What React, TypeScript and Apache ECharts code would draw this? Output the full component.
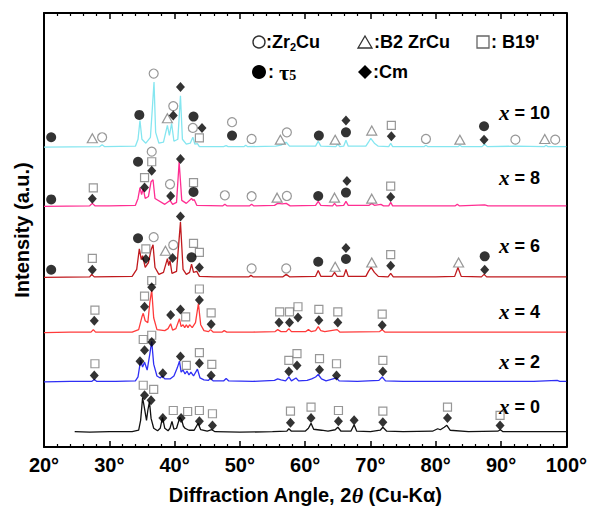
import React, { useEffect, useRef } from 'react';
import * as echarts from 'echarts';

// ---- Diffraction profiles: [2theta (deg), intensity above the pattern's own baseline] ----
const profileX0: number[][] = [
  [24.7, 0.5], [27, 0], [30, 0.5], [33.5, 0.5], [34.5, 2], [34.8, 12], [35.1, 35], [35.4, 24], [35.7, 12], [35.9, 22],
  [36.15, 31], [36.4, 14], [36.8, 4], [37.4, 1.5], [37.8, 4], [38.15, 15], [38.5, 4], [39.0, 1.5], [39.3, 4], [39.6, 11],
  [39.9, 3], [40.3, 4], [40.8, 15], [41.1, 12], [41.35, 6], [41.6, 4], [42.2, 2], [43.0, 2], [43.6, 9], [44.0, 2.5],
  [45.0, 1], [45.7, 2.5], [46.2, 0.5], [50, 0], [55, 0.5], [57.2, 1], [57.5, 3.5], [57.9, 1], [60.0, 1], [60.5, 4],
  [60.9, 9], [61.3, 3], [62.5, 2], [63.5, 1], [64.6, 2.5], [65.0, 5], [65.5, 1], [67.0, 1], [67.5, 7.5], [67.9, 1],
  [70, 0.5], [71.5, 2], [71.9, 5], [72.5, 1], [75, 0.5], [79.5, 1], [80.3, 3.5], [80.7, 2.5], [81.3, 5], [81.7, 7],
  [82.2, 2], [85, 0.5], [89.5, 1], [89.9, 2.5], [90.3, 0.5], [95, 0.5], [100, 0.5],
];
const profileX2: number[][] = [
  [20, 0], [24, 0.5], [27.3, 0.5], [27.7, 2.5], [28.1, 0.5], [31, 0.5], [34.0, 1], [34.4, 5], [34.8, 22], [35.1, 15],
  [35.4, 20], [35.8, 12], [36.2, 28], [36.5, 41], [36.8, 18], [37.3, 6], [37.8, 4], [38.1, 6], [38.5, 3], [39.3, 3],
  [39.9, 6], [40.4, 14], [40.75, 21], [41.0, 10], [41.3, 12], [41.6, 8], [41.9, 11], [42.2, 7], [42.5, 10], [42.9, 6],
  [43.5, 13], [43.9, 4], [44.5, 2], [45.2, 1.5], [45.5, 4], [45.9, 1], [47.5, 1], [47.9, 3.5], [48.3, 1], [52, 0.5],
  [55.3, 1.5], [55.8, 3], [56.3, 2], [57.0, 1], [57.5, 5], [57.9, 1], [58.6, 4], [59.0, 1], [60.3, 1.5], [61.0, 3],
  [61.6, 5], [62.0, 7.5], [62.5, 3], [63.2, 1], [64.8, 4], [65.2, 1], [68, 0.5], [71.3, 1.5], [71.8, 5], [72.3, 1],
  [75, 0.5], [80, 0.5], [85, 0.5], [90, 0.5], [95, 0.5], [98.6, 1.5], [99, 0.5], [100, 0.5],
];
const profileX4: number[][] = [
  [20, 0], [24, 0.5], [27.2, 0.5], [27.55, 3], [27.9, 0.5], [33.5, 0.5], [34.5, 3], [35.0, 16], [35.2, 19.5], [35.5, 12],
  [35.9, 10], [36.2, 30], [36.5, 43], [36.8, 15], [37.3, 3], [38.5, 2], [39.0, 4], [39.4, 9], [39.7, 2.5], [40.2, 4],
  [40.75, 14], [41.0, 6], [41.3, 8], [41.55, 5], [41.8, 8], [42.05, 5], [42.3, 8], [42.7, 5], [43.2, 10], [43.65, 29.5],
  [44.0, 8], [44.5, 2], [45.2, 1], [45.5, 3], [45.9, 0.5], [47.3, 0.5], [47.6, 2], [48, 0.5], [52, 0.5], [55.4, 1],
  [55.8, 3], [56.3, 1], [57.1, 1], [57.5, 4], [57.9, 1], [60.1, 1], [60.5, 3], [60.9, 1], [61.6, 2], [62.0, 6],
  [62.4, 2], [63, 1], [64.9, 3], [65.3, 0.5], [71.4, 1], [71.8, 3], [72.2, 0.5], [80, 0.5], [90, 0.5], [100, 0.5],
];
const profileX6: number[][] = [
  [20, 0], [27.0, 0.5], [27.3, 3], [27.7, 0.5], [33.5, 1], [34.2, 8], [34.6, 29], [34.9, 18], [35.1, 22], [35.5, 10],
  [36.0, 15], [36.4, 28], [36.7, 33], [37.0, 10], [37.6, 3], [38.3, 5], [38.9, 19], [39.1, 12], [39.3, 17], [39.6, 4],
  [40.3, 6], [40.9, 56], [41.3, 8], [41.8, 3], [42.3, 5], [42.6, 13.5], [42.9, 5], [43.4, 6], [43.8, 1], [46, 0.5],
  [50, 0.5], [51.4, 0.5], [51.7, 2], [52.0, 0.5], [56.6, 0.5], [57.1, 3], [57.6, 0.5], [61.6, 1], [62.0, 7], [62.4, 1],
  [64.1, 1], [64.5, 5], [64.9, 1], [65.9, 1], [66.25, 8], [66.6, 1], [69.3, 1], [69.7, 6], [70.1, 10], [70.6, 5],
  [71.2, 1], [72.7, 0.5], [73.1, 4], [73.5, 0.5], [80, 0.5], [82.9, 1], [83.4, 10], [83.9, 1], [87.0, 0.5], [87.4, 3],
  [87.8, 0.5], [95, 0.5], [100, 0.5],
];
const profileX8: number[][] = [
  [20, 0], [27.0, 0.5], [27.4, 3], [27.8, 0.5], [30, 0.5], [34.0, 1], [34.4, 8], [34.7, 19], [34.95, 12], [35.2, 18],
  [35.5, 8], [36.0, 10], [36.4, 25], [36.7, 27], [37.0, 8], [38.5, 2], [39.3, 6], [39.7, 2], [40.3, 4], [40.7, 45],
  [41.1, 6], [41.8, 3], [42.6, 8], [42.8, 6], [43.0, 7], [43.4, 1], [47.4, 0.5], [47.7, 2], [48, 0.5], [51.5, 0.5],
  [51.8, 2], [52.1, 0.5], [55.3, 1], [55.8, 3], [56.5, 2.5], [57.1, 3], [57.7, 0.5], [61.6, 1], [62.0, 5], [62.4, 1],
  [64.2, 0.5], [64.5, 3], [64.8, 0.5], [65.9, 1], [66.25, 5], [66.6, 1], [69.8, 1], [70.2, 3], [70.6, 1], [71.6, 2],
  [72.0, 0.5], [72.8, 0.5], [73.1, 4], [73.4, 0.5], [83.0, 0.5], [83.3, 2], [83.6, 0.5], [87.5, 1.5], [88, 0.5], [100, 0.5],
];
const profileX10: number[][] = [
  [20, 0], [28.5, 0.5], [28.9, 2.5], [29.3, 0.5], [34.0, 1], [34.4, 8], [34.7, 27], [35.0, 8], [35.6, 4], [36.3, 10],
  [36.6, 40], [36.85, 66], [37.1, 15], [37.6, 4], [38.3, 5], [38.9, 22], [39.2, 12], [39.55, 24], [39.9, 6], [40.5, 8],
  [40.9, 52], [41.2, 8], [41.8, 3], [42.4, 4], [42.8, 10], [43.1, 3], [43.5, 3.5], [43.8, 0.5], [47.5, 0.5], [47.9, 1.5],
  [48.2, 0.5], [50.6, 0.5], [50.9, 2], [51.2, 0.5], [55.5, 1], [56.3, 2], [57.1, 5], [57.6, 1], [61.6, 1], [62.0, 6],
  [62.4, 1], [64.7, 0.5], [65.0, 3], [65.3, 0.5], [65.9, 1], [66.25, 7], [66.6, 1], [69.3, 1], [69.7, 5], [70.05, 9],
  [70.6, 4], [71.2, 1], [72.8, 0.5], [73.1, 4], [73.4, 0.5], [78.2, 0.5], [78.5, 2], [78.8, 0.5], [83.4, 0.5], [83.7, 2],
  [84.0, 0.5], [87.1, 0.5], [87.5, 3], [87.9, 0.5], [92.2, 1], [96.6, 0.5], [96.9, 2], [97.2, 0.5], [100, 0.5],
];

// composition labels, stacking offsets and colours
const compositions = ['x = 0', 'x = 2', 'x = 4', 'x = 6', 'x = 8', 'x = 10'];
const offsets = [15, 66, 116, 172, 244, 304];
const colors = ['#111111', '#2f2ff5', '#ff3b3b', '#c01a1e', '#ff2e92', '#85e6f0'];
const profiles = [profileX0, profileX2, profileX4, profileX6, profileX8, profileX10];

// ---- phase markers: [2theta, level on the stacked intensity scale] ----
const zr2cuMarks: number[][] = [
  [28.9, 314], [36.8, 378.6], [39.8, 345.6], [42.8, 323.5], [48.8, 329.3], [51.8, 312.3], [57.2, 319], [78.5, 312.3], [92.2, 311.6], [98.3, 311.6],
  [36.5, 299.4], [39.3, 266.4], [47.7, 255.2], [51.8, 254.2], [57.2, 254.5],
  [36.8, 212.7], [39.8, 204.8], [51.8, 181], [57.1, 181],
];
const b2Marks: number[][] = [
  [27.4, 313], [38.9, 333.3], [56.2, 311.6], [64.6, 311.6], [70.2, 320.8], [83.7, 311.6], [96.7, 312.3],
  [55.7, 252.8], [64.5, 252.8], [70.2, 251.8],
  [38.6, 199], [64.6, 182.7], [70.2, 187.1], [83.5, 187.1],
];
const b19Marks: number[][] = [
  [43.8, 313.3], [73.2, 326],
  [27.55, 262.7], [35.4, 273.2], [36.5, 289.2], [42.9, 268], [73.1, 264.4],
  [27.4, 191.2], [35.6, 200.8], [42.9, 206.5], [43.8, 197.4], [73.1, 195],
  [27.8, 138.8], [35.4, 153], [36.5, 168.7], [41.7, 132], [43.8, 160.2], [45.6, 136], [56.1, 137], [57.6, 137], [58.9, 142.2], [62.1, 139.5], [65.0, 137], [71.8, 134.7],
  [27.8, 84.4], [35.2, 109], [36.5, 113.3], [41.8, 82.7], [43.8, 95.6], [45.7, 83.7], [57.5, 87.8], [58.75, 94.6], [62.2, 89.5], [64.8, 84.4], [71.9, 87.8],
  [35.2, 62.6], [36.8, 58.5], [39.8, 37], [42.0, 36], [43.8, 37], [45.8, 33.7], [57.75, 36.4], [60.9, 40.5], [65.1, 37], [71.9, 36.4], [81.8, 40.5], [89.85, 32],
];
const tau5Marks: number[][] = [
  [21.1, 314], [34.6, 336.7], [42.9, 335], [48.8, 315.7], [62.1, 315.7], [66.25, 319], [87.4, 325.2],
  [21.1, 251], [34.4, 289.2], [42.9, 258.6], [62.0, 254.5], [66.25, 257.9],
  [21.1, 179.7], [34.4, 211.6], [42.6, 192.3], [62.0, 187.8], [66.25, 190.6], [87.5, 193.3],
];
const cmMarks: number[][] = [
  [39.8, 336], [40.9, 365], [44.2, 323.5], [66.25, 331], [73.2, 315], [87.4, 311.6],
  [27.4, 251.8], [35.4, 263], [36.5, 280], [39.4, 254.5], [40.9, 292], [66.4, 269.8], [73.1, 253.5],
  [27.4, 179.7], [35.6, 190.6], [39.7, 191.6], [40.9, 233.7], [43.8, 182], [66.25, 201.8], [73.1, 183.7], [87.5, 179.7],
  [27.7, 127.9], [35.4, 142.2], [36.5, 161.9], [39.4, 133.7], [40.9, 139.5], [43.8, 149], [45.6, 124.5], [56.0, 126.2], [57.6, 126.2], [58.9, 131.3], [62.1, 128.6], [65.0, 126.2], [71.8, 123.5],
  [27.7, 72.5], [34.7, 87], [35.4, 98], [36.5, 106.5], [38.2, 74.8], [40.9, 91.8], [43.8, 85], [45.6, 72.5], [57.5, 76.5], [58.75, 82.7], [62.2, 78.2], [64.8, 72.5], [71.9, 76.5],
  [35.4, 52.4], [36.4, 47.3], [38.2, 29.3], [41.0, 29.3], [43.8, 26], [45.8, 21.8], [57.75, 24.5], [60.9, 29.3], [65.1, 26], [67.5, 27], [71.9, 25.2], [81.8, 29.3], [89.85, 21.8],
];

const X_MIN = 20;
const X_MAX = 100;
const X_STEP = 10;
const Y_MAX = 440;

const SANS = "'Liberation Sans', Arial, Helvetica, sans-serif";
const SERIF = "'Liberation Serif', 'Times New Roman', serif";

export default function App() {
  const ref = useRef<HTMLDivElement>(null);

  useEffect(() => {
    if (!ref.current) return;
    const chart = echarts.init(ref.current, null, { renderer: 'svg' });

    const series: any[] = profiles.map((prof, i) => ({
      type: 'line',
      name: compositions[i],
      data: prof.map(([a, h]) => [a, h + offsets[i]]),
      showSymbol: false,
      symbol: 'none',
      silent: true,
      z: 2,
      lineStyle: { color: colors[i], width: 1.3 },
    }));

    const openStyle = { color: '#ffffff', borderColor: '#7d7d7d', borderWidth: 1.2 };
    const solidStyle = { color: '#000000' };
    series.push(
      { type: 'scatter', name: 'Zr2Cu', data: zr2cuMarks, symbol: 'circle', symbolSize: 9, itemStyle: openStyle, z: 4, silent: true },
      { type: 'scatter', name: 'B2 ZrCu', data: b2Marks, symbol: 'triangle', symbolSize: [10, 9], itemStyle: openStyle, z: 4, silent: true },
      { type: 'scatter', name: "B19'", data: b19Marks, symbol: 'rect', symbolSize: 8, itemStyle: openStyle, z: 4, silent: true },
      { type: 'scatter', name: 'τ5', data: tau5Marks, symbol: 'circle', symbolSize: 10, itemStyle: solidStyle, z: 5, silent: true },
      { type: 'scatter', name: 'Cm', data: cmMarks, symbol: 'diamond', symbolSize: [9, 10], itemStyle: solidStyle, z: 5, silent: true },
    );

    const labelY = [407, 362, 312, 246, 178, 113];
    const graphic: any[] = compositions.map((c, i) => ({
      type: 'text',
      x: 499,
      y: labelY[i],
      z: 10,
      style: {
        text: `{i|x}{n|${c.slice(1)}}`,
        verticalAlign: 'middle',
        align: 'left',
        rich: {
          i: { fontFamily: SERIF, fontStyle: 'italic', fontWeight: 'bold', fontSize: 21, fill: '#000' },
          n: { fontFamily: SANS, fontWeight: 'bold', fontSize: 18, fill: '#000' },
        },
      },
    }));

    // legend (symbol key)
    const lg = '#333333';
    const r1 = 42;
    const r2 = 72;
    graphic.push(
      { type: 'circle', shape: { cx: 259, cy: r1, r: 6 }, style: { fill: '#fff', stroke: lg, lineWidth: 1.4 } },
      {
        type: 'text', x: 266, y: r1,
        style: {
          text: '{a|:Zr}{s|2}{a|Cu}', verticalAlign: 'middle',
          rich: {
            a: { fontFamily: SANS, fontWeight: 'bold', fontSize: 18, fill: '#000', lineHeight: 20 },
            s: { fontFamily: SANS, fontWeight: 'bold', fontSize: 11, fill: '#000', verticalAlign: 'bottom', lineHeight: 14 },
          },
        },
      },
      { type: 'polygon', shape: { points: [[365, r1 - 6], [372, r1 + 6], [358, r1 + 6]] }, style: { fill: '#fff', stroke: lg, lineWidth: 1.3 } },
      { type: 'text', x: 374, y: r1, style: { text: ':B2 ZrCu', verticalAlign: 'middle', fontFamily: SANS, fontWeight: 'bold', fontSize: 18, fill: '#000' } },
      { type: 'rect', shape: { x: 477, y: r1 - 6, width: 12, height: 12 }, style: { fill: '#fff', stroke: '#666', lineWidth: 1.3 } },
      { type: 'text', x: 491, y: r1, style: { text: ": B19'", verticalAlign: 'middle', fontFamily: SANS, fontWeight: 'bold', fontSize: 18, fill: '#000' } },
      { type: 'circle', shape: { cx: 259, cy: r2, r: 7 }, style: { fill: '#000' } },
      {
        type: 'text', x: 268, y: r2,
        style: {
          text: '{a|: }{t|τ}{s|5}', verticalAlign: 'middle',
          rich: {
            a: { fontFamily: SANS, fontWeight: 'bold', fontSize: 18, fill: '#000', lineHeight: 20 },
            t: { fontFamily: SERIF, fontWeight: 'bold', fontSize: 22, fill: '#000', lineHeight: 20 },
            s: { fontFamily: SERIF, fontWeight: 'bold', fontSize: 14, fill: '#000', verticalAlign: 'bottom', lineHeight: 12 },
          },
        },
      },
      { type: 'polygon', shape: { points: [[365, r2 - 7], [372, r2], [365, r2 + 7], [358, r2]] }, style: { fill: '#000' } },
      { type: 'text', x: 373, y: r2, style: { text: ':Cm', verticalAlign: 'middle', fontFamily: SANS, fontWeight: 'bold', fontSize: 18, fill: '#000' } },
    );

    const tickCommon = {
      axisLine: { show: true, onZero: false, lineStyle: { color: '#000', width: 2 } },
      axisTick: { show: true, inside: true, length: 6, lineStyle: { color: '#000', width: 1.5 } },
      minorTick: { show: true, splitNumber: 5, length: 3, lineStyle: { color: '#000', width: 1.2 } },
      splitLine: { show: false },
      minorSplitLine: { show: false },
    };

    chart.setOption({
      animation: false,
      backgroundColor: '#ffffff',
      grid: { left: 44, top: 13, width: 524, height: 440 },
      xAxis: [
        {
          type: 'value', min: X_MIN, max: X_MAX, interval: X_STEP, position: 'bottom',
          ...tickCommon,
          axisLabel: { formatter: '{value}°', color: '#000', fontFamily: SANS, fontWeight: 'bold', fontSize: 20, margin: 8 },
          name: 'Diffraction Angle, 2{t|θ} (Cu-Kα)',
          nameLocation: 'middle',
          nameGap: 37,
          nameTextStyle: {
            fontFamily: SANS, fontWeight: 'bold', fontSize: 20, color: '#000',
            rich: { t: { fontFamily: SERIF, fontStyle: 'italic', fontWeight: 'bold', fontSize: 22, color: '#000' } },
          },
        },
        {
          type: 'value', min: X_MIN, max: X_MAX, interval: X_STEP, position: 'top',
          ...tickCommon,
          axisLabel: { show: false },
        },
      ],
      yAxis: [
        {
          type: 'value', min: 0, max: Y_MAX, position: 'left',
          axisLine: { show: true, onZero: false, lineStyle: { color: '#000', width: 2 } },
          axisTick: { show: false }, axisLabel: { show: false }, splitLine: { show: false },
          name: 'Intensity (a.u.)', nameLocation: 'middle', nameGap: 12,
          nameTextStyle: { fontFamily: SANS, fontWeight: 'bold', fontSize: 20, color: '#000' },
        },
        {
          type: 'value', min: 0, max: Y_MAX, position: 'right',
          axisLine: { show: true, onZero: false, lineStyle: { color: '#000', width: 2 } },
          axisTick: { show: false }, axisLabel: { show: false }, splitLine: { show: false },
        },
      ],
      series,
      graphic,
    });

    return () => chart.dispose();
  }, []);

  return (
    <div
      ref={ref}
      style={{ position: 'fixed', left: 0, top: 0, width: 590, height: 511, background: '#fff' }}
    />
  );
}
